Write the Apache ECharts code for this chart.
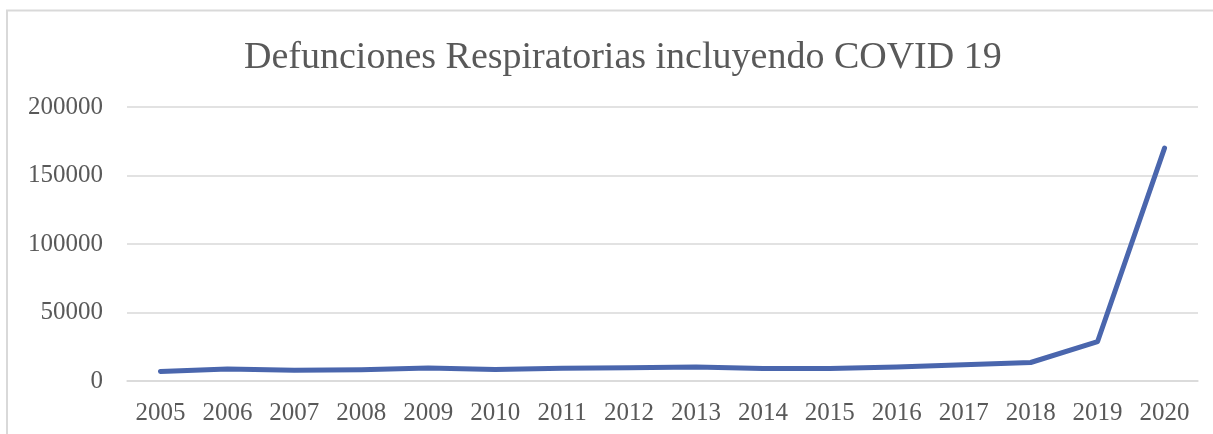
<!DOCTYPE html>
<html><head><meta charset="utf-8">
<script src="https://cdn.jsdelivr.net/npm/echarts@6/dist/echarts.min.js"></script>
<style>html,body{margin:0;padding:0;background:#fff}#c{width:1213px;height:434px}</style>
</head><body><div id="c"></div>
<script>
const titleText = "Defunciones Respiratorias incluyendo COVID 19";
const years = ["2005","2006","2007","2008","2009","2010","2011","2012","2013","2014","2015","2016","2017","2018","2019","2020"];
const deaths = [7000, 8700, 7800, 8200, 9500, 8400, 9300, 9700, 10200, 9200, 9200, 10300, 11900, 13500, 28800, 170000];
const yMin = 0, yMax = 200000, yStep = 50000;

const chart = echarts.init(document.getElementById('c'), null, {renderer:'canvas'});
const font = '"Liberation Serif", "DejaVu Serif", serif';
chart.setOption({
  animation: false,
  backgroundColor: '#fff',
  graphic: [{type:'rect', shape:{x:7, y:10.5, width:1240, height:460}, style:{fill:'none', stroke:'#d9d9d9', lineWidth:2}, silent:true}],
  title: {text: titleText, left: 239, top: 34,
    textStyle:{fontFamily: font, fontSize: 38, fontWeight:'normal', color:'#595959'}},
  grid: {left:127, right:15, top:107, bottom:53, containLabel:false},
  xAxis: {type:'category', data: years, boundaryGap:true,
    axisLine:{show:true, lineStyle:{color:'#d9d9d9', width:1.5}},
    axisTick:{show:false},
    axisLabel:{fontFamily:font, fontSize:25, color:'#595959', margin:20}},
  yAxis: {type:'value', min:yMin, max:yMax, interval:yStep,
    axisLine:{show:false}, axisTick:{show:false},
    splitLine:{lineStyle:{color:'#d9d9d9', width:1.5}},
    axisLabel:{fontFamily:font, fontSize:25, color:'#595959', margin:24, formatter: v => String(v)}},
  series: [{type:'line', data: deaths, symbol:'none', smooth:false,
    lineStyle:{color:'#4a66ad', width:5, cap:'round', join:'round'}}]
});
</script></body></html>
